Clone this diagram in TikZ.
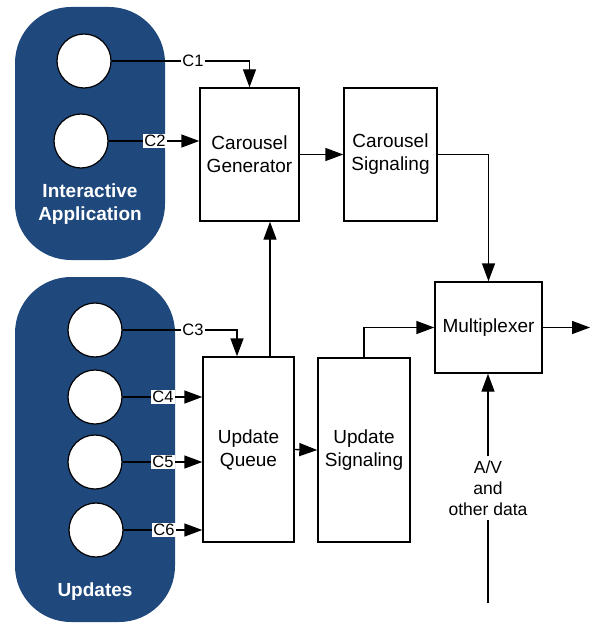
\documentclass[tikz,border=0pt]{standalone}
\usepackage{fontspec}
\setmainfont{Liberation Sans}
\usetikzlibrary{arrows.meta}
\definecolor{navy}{RGB}{31,72,124}
\tikzset{
  group/.style={fill=navy, draw=none, rounded corners=56pt},
  port/.style={circle, draw=black, fill=white, line width=1.2pt, minimum size=54pt, inner sep=0pt},
  blk/.style={draw=black, fill=white, line width=1.4pt, inner sep=0pt, align=center, font=\fontsize{19}{23}\selectfont},
  grouplabel/.style={text=white, align=center, font=\fontsize{19}{23}\selectfont\bfseries},
  clabel/.style={fill=white, inner sep=1pt, font=\fontsize{16.5}{19}\selectfont},
  conn/.style={line width=1.4pt, draw=black},
  arr/.style={conn, -{Triangle[length=18pt,width=13pt]}},
}
\begin{document}
\begin{tikzpicture}[x=1pt,y=-1pt]
\useasboundingbox (0,0) rectangle (590,623);
% groups
\fill[group] (15,7) rectangle (165,260);
\fill[group] (15,277) rectangle (175,622);
\node[grouplabel] (iatext) at (90,204) {Interactive\\Application};
\node[grouplabel] (uptext) at (95,592) {Updates};
% ports
\node[port] (a1) at (84,61) {};
\node[port] (a2) at (81,141) {};
\node[port] (u3) at (95,330) {};
\node[port] (u4) at (95,397) {};
\node[port] (u5) at (95,462) {};
\node[port] (u6) at (96,530) {};
% blocks
\node[blk, minimum width=99pt, minimum height=133pt] (cg) at (249.5,154.5) {Carousel\\Generator};
\node[blk, minimum width=93pt, minimum height=133pt] (cs) at (390.5,154.5) {Carousel\\Signaling};
\node[blk, minimum width=91pt, minimum height=185pt] (uq) at (248.5,449.5) {Update\\Queue};
\node[blk, minimum width=92pt, minimum height=184pt] (us) at (364,450) {Update\\Signaling};
\node[blk, minimum width=107pt, minimum height=91pt] (mux) at (488.5,327.5) {Multiplexer};
% connectors
\draw[arr] (a1.east) -| (cg.north);
\node[clabel] (l1) at (193,61) {C1};
\draw[arr] (a2.east) -- (a2.east -| cg.west);
\node[clabel] (l2) at (155,141) {C2};
\draw[arr] (u3.east) -| ([xshift=-11.5pt]uq.north);
\node[clabel] (l3) at (193,330) {C3};
\draw[arr] (u4.east) -- (u4.east -| uq.west);
\node[clabel] (l4) at (163,397) {C4};
\draw[arr] (u5.east) -- (u5.east -| uq.west);
\node[clabel] (l5) at (163,462) {C5};
\draw[arr] (u6.east) -- (u6.east -| uq.west);
\node[clabel] (l6) at (164,530) {C6};
\draw[arr] ([xshift=21.5pt]uq.north) -- ([xshift=21.5pt]uq.north |- cg.south);
\draw[arr] (cg.east) -- (cs.west);
\draw[arr] (cs.east) -| (mux.north);
\draw[arr] (uq.east) -- (us.west);
\draw[arr] (us.north) |- (mux.west);
\coordinate (out) at (590,327.5);
\draw[arr] (mux.east) -- (out);
\node[align=center, inner sep=4pt, font=\fontsize{17.5}{21}\selectfont] (av) at (488,488) {A/V\\and\\other data};
\coordinate (avsrc) at (488,603);
\draw[conn] (avsrc) -- (av.south);
\draw[arr] (av.north) -- (av.north |- mux.south);
\end{tikzpicture}
\end{document}
